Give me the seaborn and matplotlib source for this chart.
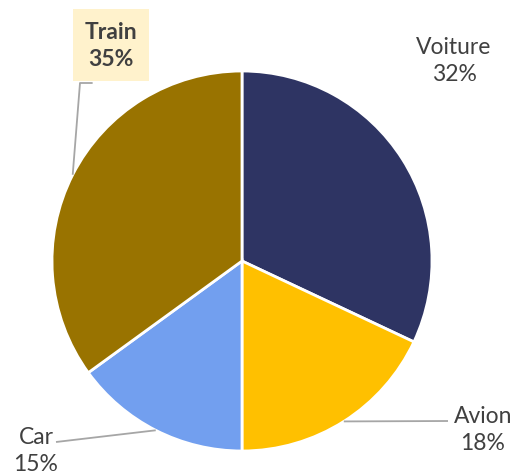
import numpy as np
import matplotlib
matplotlib.use("Agg")
import matplotlib.pyplot as plt
import seaborn as sns

# Données
categories = ["Voiture", "Avion", "Car", "Train"]
values = [32, 18, 15, 35]
colors = ["#2E3463", "#FFC000", "#729FEF", "#997300"]

sns.set_style("white")
plt.rcParams['font.family'] = ['Lato', 'DejaVu Sans']

fig = plt.figure(figsize=(5.13, 4.77), dpi=100)
ax = fig.add_axes([0, 0, 1, 1])

cx, cy, r = 242, 215, 190
wedges, _ = ax.pie(values, colors=colors, startangle=90, counterclock=False,
                   center=(cx, cy), radius=r, frame=True,
                   wedgeprops=dict(edgecolor='white', linewidth=2))
ax.set_xlim(0, 513)
ax.set_ylim(0, 477)
ax.set_aspect('equal')
ax.axis('off')

text_col = "#404040"
line_col = "#A6A6A6"
# positions des étiquettes (pixels, y vers le haut)
label_pos = {
    "Voiture": (454, 477 - 61),
    "Avion": (483, 477 - 430),
    "Car": (36, 477 - 451),
    "Train": (111, 477 - 46),
}
line_end = {
    "Avion": (448, 477 - 422),
    "Car": (56, 477 - 443),
    "Train": (80, 477 - 84),
}

for w, cat, v in zip(wedges, categories, values):
    ang = np.deg2rad((w.theta1 + w.theta2) / 2)
    px, py = cx + r * np.cos(ang), cy + r * np.sin(ang)
    tx, ty = label_pos[cat]
    txt = f"{cat}\n{v}%"
    if cat == "Train":
        ax.text(tx, ty, txt, ha='center', va='center', fontsize=16.5, color=text_col,
                fontweight='bold', linespacing=1.4,
                bbox=dict(boxstyle='square,pad=0.5', facecolor='#FFF2CC', edgecolor='none'))
    else:
        ax.text(tx, ty, txt, ha='center', va='center', fontsize=16.5, color=text_col,
                linespacing=1.4)
    if cat in line_end:
        ex, ey = line_end[cat]
        ax.plot([px, ex], [py, ey], color=line_col, lw=1.3, solid_capstyle='butt')
        if cat == "Train":
            ax.plot([ex, ex + 12], [ey, ey], color=line_col, lw=1.3)

fig.savefig("out.png", dpi=100)
